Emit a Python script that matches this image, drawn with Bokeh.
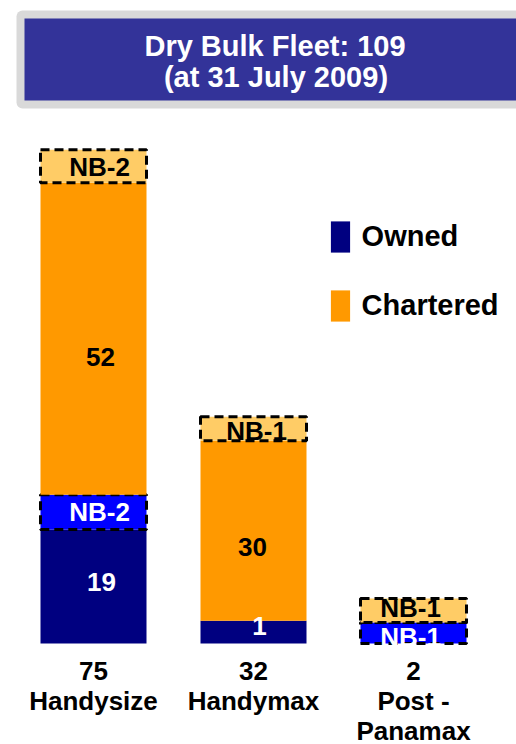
from bokeh.plotting import figure
from bokeh.models import ColumnDataSource, Range1d, BoxAnnotation, Legend, LegendItem
from bokeh.core.properties import value
from bokeh.embed import file_html
from bokeh.resources import INLINE

# ---------------- data ----------------
categories = ["Handysize", "Handymax", "Post -\nPanamax"]
owned = [19, 1, 0]
nb_owned = [2, 0, 1]
chartered = [52, 30, 0]
nb_chartered = [2, 1, 1]
# heights as drawn in the picture (small segments are not to scale)
owned_h = [19, 3.8, 0]
nb_owned_h = [5.8, 0, 3.5]
chartered_h = [52, 30, 0]
nb_chartered_h = [5.5, 4, 4]
series_names = ["Owned", "Chartered"]
title_text = "Dry Bulk Fleet: {}"
subtitle_text = "(at 31 July 2009)"

# ---------------- geometry helpers (canvas px -> data) ----------------
W, H = 516, 744
X0, XS = 93.0, 160.0   # px of x=0, px per category
Y0, YS = 643.0, 6.0    # px of y=0, px per unit


def dx(px):
    return (px - X0) / XS


def dy(px):
    return (Y0 - px) / YS


NAVY = "#000080"
BLUE = "#0000FF"
ORANGE = "#FF9900"
LIGHT = "#FFCC66"
FONT_NAME = "Liberation Sans"
FONT = value(FONT_NAME)

p = figure(width=W, height=H, output_backend="svg", toolbar_location=None,
           x_range=Range1d(dx(0), dx(W)), y_range=Range1d(dy(H), dy(0)),
           x_axis_location=None, y_axis_location=None, min_border=0,
           outline_line_color=None, background_fill_color="white",
           border_fill_color="white")
p.xgrid.visible = False
p.ygrid.visible = False

# ---------------- title box ----------------
p.add_layout(BoxAnnotation(left=dx(16), right=dx(540), top=dy(10), bottom=dy(108),
                           fill_color="#D9D9D9", fill_alpha=1, line_color=None,
                           border_radius=6, level="underlay"))
p.add_layout(BoxAnnotation(left=dx(24), right=dx(540), top=dy(18), bottom=dy(100),
                           fill_color="#333399", fill_alpha=1, line_color=None,
                           level="underlay"))
total_all = sum(owned) + sum(nb_owned) + sum(chartered) + sum(nb_chartered)
p.text(x=[dx(274.5), dx(275.5)], y=[dy(45.5), dy(76.5)],
       text=[title_text.format(total_all), subtitle_text],
       text_color="white", text_font=FONT, text_font_style="bold",
       text_font_size="29px", text_align="center", text_baseline="middle")

# ---------------- stacked bars ----------------
xs = list(range(len(categories)))
bw = 106 / XS


def seg_source(vals, heights, base):
    d = dict(x=[], bottom=[], top=[], v=[])
    for i, (v, h) in enumerate(zip(vals, heights)):
        if h > 0:
            d["x"].append(xs[i]); d["bottom"].append(base[i]); d["top"].append(base[i] + h)
            d["v"].append(v)
    return d


base = [0.0] * 3
segs = {}
for key, vals, hts in [("owned", owned, owned_h), ("nb_owned", nb_owned, nb_owned_h),
                       ("chartered", chartered, chartered_h),
                       ("nb_chartered", nb_chartered, nb_chartered_h)]:
    segs[key] = seg_source(vals, hts, base)
    base = [b + h for b, h in zip(base, hts)]

r_owned = p.vbar(x="x", bottom="bottom", top="top", width=bw, source=ColumnDataSource(segs["owned"]),
                 fill_color=NAVY, line_color=None)
p.vbar(x="x", bottom="bottom", top="top", width=bw, source=ColumnDataSource(segs["nb_owned"]),
       fill_color=BLUE, line_color="black", line_width=3, line_dash="9 5")
r_char = p.vbar(x="x", bottom="bottom", top="top", width=bw, source=ColumnDataSource(segs["chartered"]),
                fill_color=ORANGE, line_color=None)
p.vbar(x="x", bottom="bottom", top="top", width=bw, source=ColumnDataSource(segs["nb_chartered"]),
       fill_color=LIGHT, line_color="black", line_width=3, line_dash="9 5")

# ---------------- segment labels ----------------
# pixel nudges of the labels, as placed in the picture
nudge = {
    ("owned", 0): (8, -5), ("owned", 1): (6, -6),
    ("nb_owned", 0): (6, 0), ("nb_owned", 2): (-3, 4),
    ("chartered", 0): (7, 18), ("chartered", 1): (-1, 16),
    ("nb_chartered", 0): (6, 1), ("nb_chartered", 1): (3, 2), ("nb_chartered", 2): (-3, -3),
}
lab = dict(x=[], y=[], text=[], color=[], xo=[], yo=[])
for key, color, prefix in [("owned", "white", ""), ("nb_owned", "white", "NB-"),
                           ("chartered", "black", ""), ("nb_chartered", "black", "NB-")]:
    s = segs[key]
    for x, b, t, v in zip(s["x"], s["bottom"], s["top"], s["v"]):
        lab["x"].append(x); lab["y"].append((b + t) / 2)
        lab["text"].append(f"{prefix}{v}"); lab["color"].append(color)
        ox, oy = nudge.get((key, x), (0, 0))
        lab["xo"].append(ox); lab["yo"].append(oy)
p.text(x="x", y="y", text="text", text_color="color", x_offset="xo", y_offset="yo",
       source=ColumnDataSource(lab), text_font=FONT, text_font_style="bold",
       text_font_size="26px", text_align="center", text_baseline="middle")

# ---------------- category labels ----------------
totals = [a + b + c + d for a, b, c, d in zip(owned, nb_owned, chartered, nb_chartered)]
cat_text = [f"{t}\n{c}" for t, c in zip(totals, categories)]
p.text(x=xs, y=[0] * 3, text=cat_text, y_offset=12, text_color="black", text_font=FONT,
       text_font_style="bold", text_font_size="26px", text_align="center",
       text_baseline="top", text_line_height=1.0)

# ---------------- legend ----------------
legend = Legend(items=[LegendItem(label=series_names[0], renderers=[r_owned]),
                       LegendItem(label=series_names[1], renderers=[r_char])],
                location=(327.6, 419.4), orientation="vertical",
                glyph_width=24, glyph_height=39, spacing=30, padding=0, margin=0,
                label_standoff=10, label_text_font=FONT_NAME, label_text_font_style="bold",
                label_text_font_size="29px", label_text_color="black",
                border_line_color=None, background_fill_alpha=0)
p.add_layout(legend)

open("out.html", "w").write(file_html(p, INLINE))
